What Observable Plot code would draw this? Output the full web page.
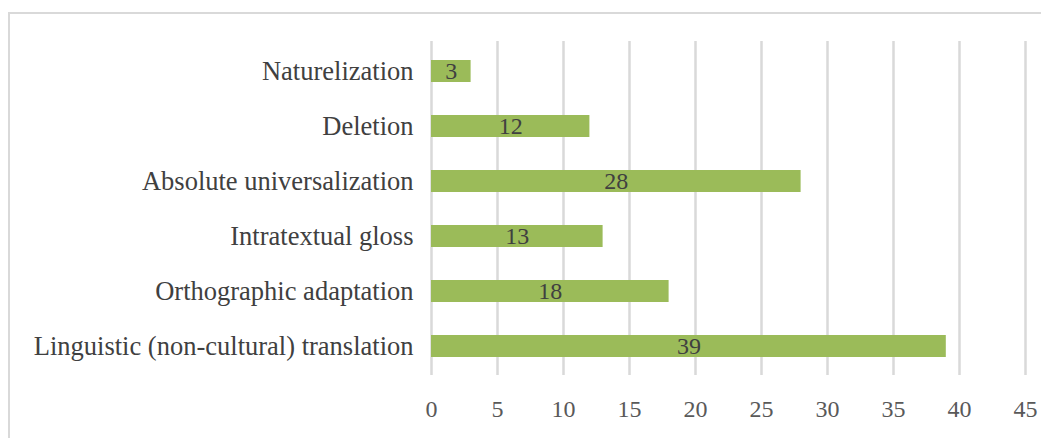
<!DOCTYPE html>
<html>
<head>
<meta charset="utf-8">
<script src="https://cdn.jsdelivr.net/npm/d3@7"></script>
<script src="https://cdn.jsdelivr.net/npm/@observablehq/plot@0.6"></script>
<style>
  html, body { margin: 0; padding: 0; background: #fff; }
  #wrap { position: relative; width: 1041px; height: 438px; overflow: hidden; }
  #frame { position: absolute; left: 8px; top: 12px; width: 1100px; height: 500px;
           border-left: 2px solid #d9d9d9; border-top: 2px solid #d9d9d9; box-sizing: border-box; }
  #chart { position: absolute; left: 0; top: 0; }
  #chart svg, #chart svg text { font-family: "Liberation Serif", "Times New Roman", serif !important; }
</style>
</head>
<body>
<div id="wrap"><div id="frame"></div><div id="chart"></div></div>
<script>
const categories = [
  "Naturelization",
  "Deletion",
  "Absolute universalization",
  "Intratextual gloss",
  "Orthographic adaptation",
  "Linguistic (non-cultural) translation"
];
const values = [3, 12, 28, 13, 18, 39];
const xTicks = [0, 5, 10, 15, 20, 25, 30, 35, 40, 45];

const data = categories.map((c, i) => ({category: c, value: values[i]}));
const font = "Liberation Serif";

const chart = Plot.plot({
  width: 1041,
  height: 438,
  marginLeft: 431,
  marginRight: 16,
  marginTop: 41,
  marginBottom: 63,
  style: {fontFamily: font, fontSize: "24px", color: "#404040", background: "transparent"},
  x: {domain: [0, 45], ticks: xTicks},
  y: {domain: categories, paddingInner: 0.6, paddingOuter: 0.3, label: null},
  marks: [
    Plot.gridX(xTicks, {stroke: "#d9d9d9", strokeOpacity: 1, strokeWidth: 2.5}),
    Plot.barX(data, {y: "category", x: "value", fill: "#9bbb59"}),
    Plot.text(data, {y: "category", x: d => d.value / 2, text: d => String(d.value),
      fill: "#404040", fontSize: 24, fontFamily: font}),
    Plot.axisX({ticks: xTicks, tickSize: 0, tickPadding: 24, label: null, fontSize: 24, fontFamily: font, fill: "#595959"}),
    Plot.axisY({tickSize: 0, tickPadding: 18, label: null, fontSize: 26.5, fontFamily: font, fill: "#404040"})
  ]
});
document.getElementById("chart").appendChild(chart);
</script>
</body>
</html>
